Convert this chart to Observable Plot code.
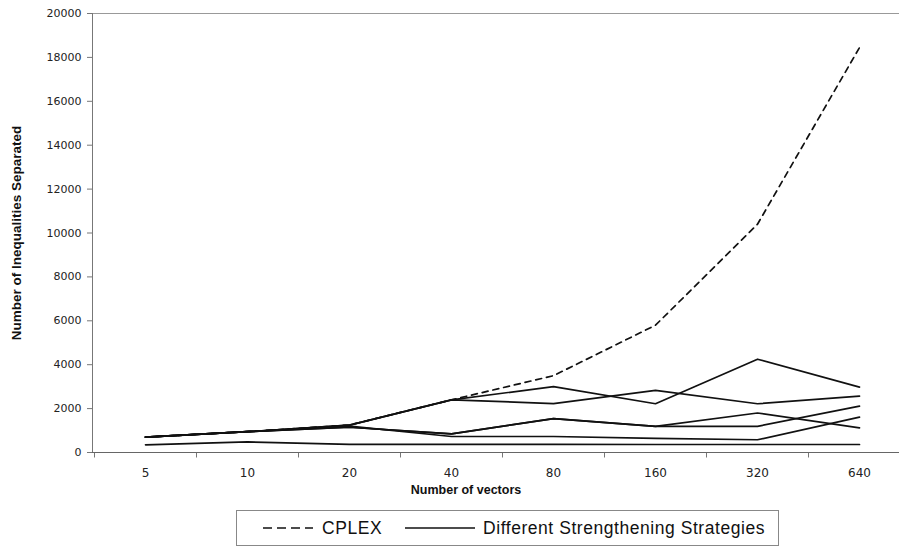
<!DOCTYPE html>
<html>
<head>
<meta charset="utf-8">
<script src="https://cdn.jsdelivr.net/npm/d3@7"></script>
<script src="https://cdn.jsdelivr.net/npm/@observablehq/plot@0.6"></script>
<style>
  html, body { margin: 0; padding: 0; background: #fff; }
  #wrap { position: relative; width: 899px; height: 548px; overflow: hidden; }
  #legend {
    position: absolute; left: 236px; top: 510px; width: 543px; height: 36px;
    border: 1px solid #888; box-sizing: border-box; background: #fff;
    font-family: "Liberation Sans", Arial, sans-serif; font-size: 17.5px; color: #111;
    letter-spacing: 0.55px;
  }
  #legend svg { position: absolute; top: 0; left: 0; }
  #legend span { position: absolute; top: 7px; white-space: nowrap; }
</style>
</head>
<body>
<div id="wrap">
  <div id="chart"></div>
  <div id="legend">
    <svg width="543" height="36">
      <line x1="26" x2="76" y1="17" y2="17" stroke="#111" stroke-width="1.5" stroke-dasharray="9,5"></line>
      <line x1="168" x2="238" y1="17" y2="17" stroke="#111" stroke-width="1.5"></line>
    </svg>
    <span style="left:85px">CPLEX</span>
    <span style="left:246px">Different Strengthening Strategies</span>
  </div>
</div>
<script>
const categories = ["5", "10", "20", "40", "80", "160", "320", "640"];
const yTicks = [0, 2000, 4000, 6000, 8000, 10000, 12000, 14000, 16000, 18000, 20000];

const cplex      = [700, 950, 1250, 2400, 3500, 5800, 10400, 18450];
const strategyA  = [700, 950, 1250, 2400, 3000, 2220, 4250, 2980];
const strategyB  = [700, 950, 1250, 2400, 2230, 2830, 2220, 2570];
const strategyC  = [700, 950, 1150, 850, 1540, 1190, 1800, 1125];
const strategyD  = [700, 950, 1150, 850, 1540, 1190, 1190, 2110];
const strategyE  = [700, 950, 1200, 730, 730, 640, 580, 1610];
const strategyF  = [350, 480, 370, 370, 370, 365, 365, 365];

const strategies = [strategyA, strategyB, strategyC, strategyD, strategyE, strategyF];
const strategyRows = strategies.flatMap((s, k) =>
  s.map((v, i) => ({series: "S" + k, x: categories[i], y: v})));
const cplexRows = cplex.map((v, i) => ({x: categories[i], y: v}));

const fontTicks = "DejaVu Sans, sans-serif";

const chart = Plot.plot({
  width: 899,
  height: 505,
  marginLeft: 92,
  marginRight: 0,
  marginTop: 13,
  marginBottom: 53,
  style: {fontFamily: "Liberation Sans, Arial, sans-serif", color: "#222", background: "#fff"},
  x: {type: "band", domain: categories, range: [94, 910], padding: 0},
  y: {domain: [0, 20000]},
  marks: [
    Plot.frame({anchor: "top", stroke: "#999", strokeWidth: 1}),
    Plot.frame({anchor: "left", stroke: "#777", strokeWidth: 1}),
    Plot.axisY({
      ticks: yTicks, tickSize: 5, tickPadding: 6, tickFormat: d => String(d),
      fontSize: 11, fontFamily: fontTicks, stroke: "#777",
      label: "Number of Inequalities Separated", labelAnchor: "center",
      labelOffset: 81, labelArrow: "none", fontWeight: "normal"
    }),
    Plot.axisX({
      tickSize: 0, tickPadding: 16, fontSize: 12, fontFamily: fontTicks, label: null
    }),
    Plot.ruleX(categories, {x: d => d, y1: 0, y2: -250, dx: -51, stroke: "#777", strokeWidth: 1}),
    Plot.line(strategyRows, {x: "x", y: "y", z: "series", stroke: "#111", strokeWidth: 1.7, strokeLinejoin: "round"}),
    Plot.line(cplexRows, {x: "x", y: "y", stroke: "#111", strokeWidth: 1.7, strokeDasharray: "6,5"}),
    Plot.frame({anchor: "bottom", stroke: "#666", strokeWidth: 1.2}),
    Plot.text(["Number of vectors"], {text: d => d, frameAnchor: "bottom", dx: -30, dy: 41,
      fontWeight: "bold", fontSize: 12.5, fill: "#111"})
  ]
});

document.getElementById("chart").appendChild(chart);
chart.querySelectorAll("text").forEach(t => {
  if (t.textContent === "Number of Inequalities Separated") {
    t.setAttribute("font-weight", "bold");
    t.setAttribute("font-size", "13.5");
    t.setAttribute("font-family", "Liberation Sans, Arial, sans-serif");
    t.setAttribute("fill", "#111");
  }
});
</script>
</body>
</html>
